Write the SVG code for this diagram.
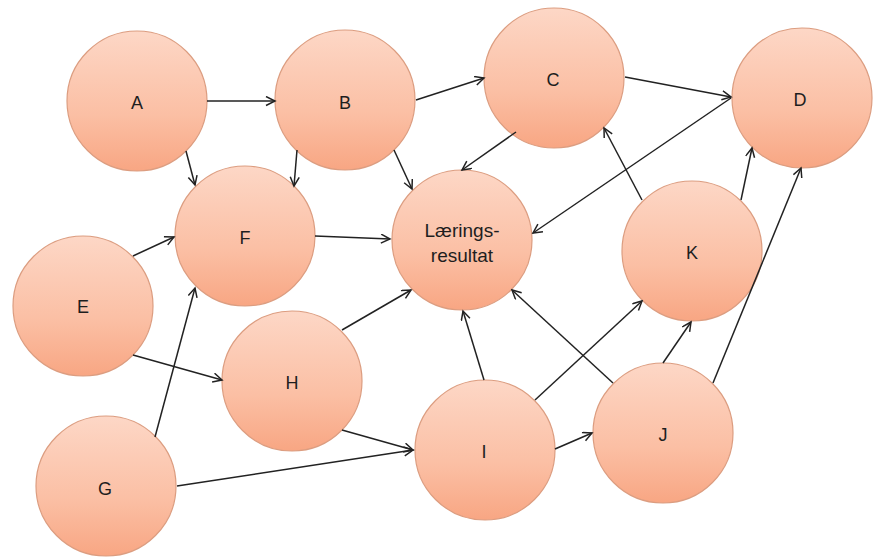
<svg xmlns="http://www.w3.org/2000/svg" width="881" height="559" viewBox="0 0 881 559">
<defs>
<linearGradient id="g" x1="0" y1="0" x2="0" y2="1">
<stop offset="0" stop-color="#fdd7c6"/>
<stop offset="0.6" stop-color="#fbbfa4"/>
<stop offset="1" stop-color="#f8a683"/>
</linearGradient>
<marker id="ah" markerUnits="userSpaceOnUse" markerWidth="12" markerHeight="12" refX="10" refY="5" orient="auto">
<path d="M1,0.5 L10,5 L1,9.5" fill="none" stroke="#222" stroke-width="1.5"/>
</marker>
<style>
.n circle{fill:url(#g);stroke:#dc9d80;stroke-width:1.2}
.n text{font-family:"Liberation Sans","Open Sans",Arial,sans-serif;font-size:18px;fill:#1e1e1e;text-anchor:middle}
#edges line{stroke:#222;stroke-width:1.5;marker-end:url(#ah)}
</style>
</defs>
<rect width="881" height="559" fill="#fff"/>
<g id="nodes">
<g id="A" class="n"><circle cx="137" cy="101" r="70"/><text x="137" y="109">A</text></g>
<g id="B" class="n"><circle cx="345" cy="100" r="70"/><text x="345" y="109">B</text></g>
<g id="C" class="n"><circle cx="554" cy="78" r="70"/><text x="553" y="86">C</text></g>
<g id="D" class="n"><circle cx="802" cy="98" r="70"/><text x="800" y="106">D</text></g>
<g id="E" class="n"><circle cx="83" cy="306" r="70"/><text x="83" y="313">E</text></g>
<g id="F" class="n"><circle cx="245" cy="236" r="70"/><text x="245" y="244">F</text></g>
<g id="L" class="n"><circle cx="462" cy="240" r="70"/><text x="462" y="237" style="font-size:19px">Lærings-</text><text x="462" y="262" style="font-size:19px">resultat</text></g>
<g id="K" class="n"><circle cx="692" cy="251" r="70"/><text x="692" y="259">K</text></g>
<g id="H" class="n"><circle cx="292" cy="381" r="70"/><text x="292" y="389">H</text></g>
<g id="G" class="n"><circle cx="106" cy="486" r="70"/><text x="105" y="495">G</text></g>
<g id="I" class="n"><circle cx="485" cy="450" r="70"/><text x="484" y="458">I</text></g>
<g id="J" class="n"><circle cx="663" cy="433" r="70"/><text x="663" y="441">J</text></g>
</g>
<g id="edges">
<line x1="207" y1="101" x2="275" y2="101"/>
<line x1="186" y1="151" x2="195" y2="185"/>
<line x1="416" y1="100" x2="484" y2="78"/>
<line x1="297" y1="150" x2="294" y2="186"/>
<line x1="394" y1="150" x2="412" y2="189"/>
<line x1="625" y1="77" x2="731" y2="97"/>
<line x1="516" y1="132" x2="462" y2="170"/>
<line x1="731" y1="98" x2="533" y2="233"/>
<line x1="133" y1="256" x2="174" y2="237"/>
<line x1="133" y1="355" x2="222" y2="380"/>
<line x1="315" y1="236" x2="390" y2="239"/>
<line x1="155" y1="437" x2="195" y2="288"/>
<line x1="177" y1="486" x2="413" y2="450"/>
<line x1="342" y1="330" x2="411" y2="290"/>
<line x1="342" y1="430" x2="413" y2="450"/>
<line x1="484" y1="380" x2="463" y2="311"/>
<line x1="535" y1="400" x2="642" y2="301"/>
<line x1="555" y1="449" x2="592" y2="433"/>
<line x1="613" y1="383" x2="512" y2="290"/>
<line x1="663" y1="363" x2="691" y2="322"/>
<line x1="713" y1="383" x2="801" y2="168"/>
<line x1="642" y1="200" x2="604" y2="128"/>
<line x1="741" y1="200" x2="752" y2="148"/>
</g>
</svg>
